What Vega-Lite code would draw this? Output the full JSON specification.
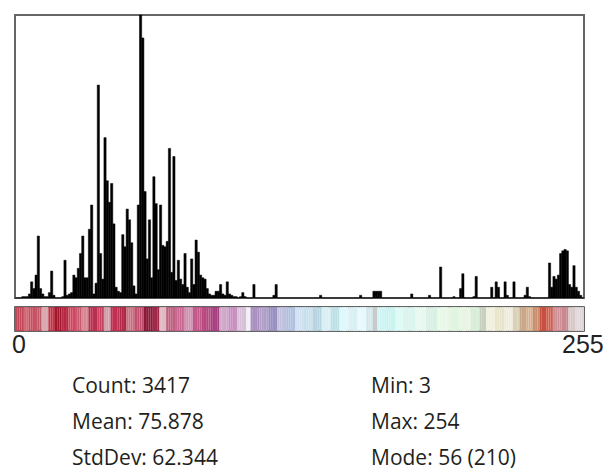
{
  "$schema": "https://vega.github.io/schema/vega-lite/v6.json",
  "padding": {"left": 10, "top": 13, "right": 2, "bottom": 0},
  "background": "white",
  "config": {"concat": {"spacing": 6}},
  "datasets": {
    "hist": [
      {"bin":0,"count":0},{"bin":1,"count":0},{"bin":2,"count":0},{"bin":3,"count":1},{"bin":4,"count":1},{"bin":5,"count":1},{"bin":6,"count":3},{"bin":7,"count":12},{"bin":8,"count":7},{"bin":9,"count":17},
      {"bin":10,"count":46},{"bin":11,"count":7},{"bin":12,"count":3},{"bin":13,"count":1},{"bin":14,"count":1},{"bin":15,"count":4},{"bin":16,"count":20},{"bin":17,"count":2},{"bin":18,"count":0},{"bin":19,"count":0},
      {"bin":20,"count":0},{"bin":21,"count":1},{"bin":22,"count":28},{"bin":23,"count":2},{"bin":24,"count":3},{"bin":25,"count":4},{"bin":26,"count":17},{"bin":27,"count":15},{"bin":28,"count":22},{"bin":29,"count":33},
      {"bin":30,"count":46},{"bin":31,"count":15},{"bin":32,"count":15},{"bin":33,"count":51},{"bin":34,"count":69},{"bin":35,"count":3},{"bin":36,"count":11},{"bin":37,"count":158},{"bin":38,"count":33},{"bin":39,"count":14},
      {"bin":40,"count":119},{"bin":41,"count":87},{"bin":42,"count":71},{"bin":43,"count":85},{"bin":44,"count":55},{"bin":45,"count":8},{"bin":46,"count":5},{"bin":47,"count":4},{"bin":48,"count":47},{"bin":49,"count":38},
      {"bin":50,"count":66},{"bin":51,"count":58},{"bin":52,"count":41},{"bin":53,"count":9},{"bin":54,"count":3},{"bin":55,"count":69},{"bin":56,"count":210},{"bin":57,"count":193},{"bin":58,"count":79},{"bin":59,"count":29},
      {"bin":60,"count":58},{"bin":61,"count":15},{"bin":62,"count":90},{"bin":63,"count":70},{"bin":64,"count":21},{"bin":65,"count":69},{"bin":66,"count":39},{"bin":67,"count":38},{"bin":68,"count":42},{"bin":69,"count":111},
      {"bin":70,"count":19},{"bin":71,"count":105},{"bin":72,"count":13},{"bin":73,"count":28},{"bin":74,"count":14},{"bin":75,"count":10},{"bin":76,"count":33},{"bin":77,"count":8},{"bin":78,"count":4},{"bin":79,"count":29},
      {"bin":80,"count":10},{"bin":81,"count":43},{"bin":82,"count":34},{"bin":83,"count":17},{"bin":84,"count":15},{"bin":85,"count":14},{"bin":86,"count":7},{"bin":87,"count":3},{"bin":88,"count":2},{"bin":89,"count":2},
      {"bin":90,"count":5},{"bin":91,"count":5},{"bin":92,"count":10},{"bin":93,"count":3},{"bin":94,"count":2},{"bin":95,"count":12},{"bin":96,"count":3},{"bin":97,"count":2},{"bin":98,"count":1},{"bin":99,"count":1},
      {"bin":100,"count":0},{"bin":101,"count":1},{"bin":102,"count":4},{"bin":103,"count":1},{"bin":104,"count":0},{"bin":105,"count":0},{"bin":106,"count":0},{"bin":107,"count":10},{"bin":108,"count":0},{"bin":109,"count":0},
      {"bin":110,"count":0},{"bin":111,"count":0},{"bin":112,"count":0},{"bin":113,"count":0},{"bin":114,"count":0},{"bin":115,"count":0},{"bin":116,"count":2},{"bin":117,"count":10},{"bin":118,"count":0},{"bin":119,"count":0},
      {"bin":120,"count":0},{"bin":121,"count":0},{"bin":122,"count":0},{"bin":123,"count":0},{"bin":124,"count":0},{"bin":125,"count":0},{"bin":126,"count":0},{"bin":127,"count":0},{"bin":128,"count":0},{"bin":129,"count":0},
      {"bin":130,"count":0},{"bin":131,"count":0},{"bin":132,"count":0},{"bin":133,"count":0},{"bin":134,"count":0},{"bin":135,"count":0},{"bin":136,"count":0},{"bin":137,"count":2},{"bin":138,"count":0},{"bin":139,"count":0},
      {"bin":140,"count":0},{"bin":141,"count":0},{"bin":142,"count":0},{"bin":143,"count":0},{"bin":144,"count":0},{"bin":145,"count":0},{"bin":146,"count":0},{"bin":147,"count":0},{"bin":148,"count":0},{"bin":149,"count":0},
      {"bin":150,"count":0},{"bin":151,"count":0},{"bin":152,"count":0},{"bin":153,"count":0},{"bin":154,"count":0},{"bin":155,"count":2},{"bin":156,"count":0},{"bin":157,"count":0},{"bin":158,"count":0},{"bin":159,"count":0},
      {"bin":160,"count":0},{"bin":161,"count":5},{"bin":162,"count":5},{"bin":163,"count":5},{"bin":164,"count":5},{"bin":165,"count":0},{"bin":166,"count":0},{"bin":167,"count":0},{"bin":168,"count":0},{"bin":169,"count":0},
      {"bin":170,"count":0},{"bin":171,"count":0},{"bin":172,"count":0},{"bin":173,"count":0},{"bin":174,"count":0},{"bin":175,"count":0},{"bin":176,"count":0},{"bin":177,"count":0},{"bin":178,"count":3},{"bin":179,"count":0},
      {"bin":180,"count":0},{"bin":181,"count":0},{"bin":182,"count":0},{"bin":183,"count":0},{"bin":184,"count":0},{"bin":185,"count":0},{"bin":186,"count":2},{"bin":187,"count":0},{"bin":188,"count":0},{"bin":189,"count":0},
      {"bin":190,"count":0},{"bin":191,"count":23},{"bin":192,"count":0},{"bin":193,"count":0},{"bin":194,"count":0},{"bin":195,"count":0},{"bin":196,"count":0},{"bin":197,"count":1},{"bin":198,"count":0},{"bin":199,"count":0},
      {"bin":200,"count":7},{"bin":201,"count":18},{"bin":202,"count":0},{"bin":203,"count":0},{"bin":204,"count":0},{"bin":205,"count":0},{"bin":206,"count":1},{"bin":207,"count":16},{"bin":208,"count":0},{"bin":209,"count":0},
      {"bin":210,"count":0},{"bin":211,"count":0},{"bin":212,"count":0},{"bin":213,"count":0},{"bin":214,"count":8},{"bin":215,"count":0},{"bin":216,"count":12},{"bin":217,"count":8},{"bin":218,"count":0},{"bin":219,"count":0},
      {"bin":220,"count":12},{"bin":221,"count":2},{"bin":222,"count":0},{"bin":223,"count":0},{"bin":224,"count":12},{"bin":225,"count":0},{"bin":226,"count":0},{"bin":227,"count":0},{"bin":228,"count":0},{"bin":229,"count":2},
      {"bin":230,"count":8},{"bin":231,"count":1},{"bin":232,"count":0},{"bin":233,"count":0},{"bin":234,"count":0},{"bin":235,"count":0},{"bin":236,"count":0},{"bin":237,"count":0},{"bin":238,"count":0},{"bin":239,"count":0},
      {"bin":240,"count":26},{"bin":241,"count":8},{"bin":242,"count":16},{"bin":243,"count":14},{"bin":244,"count":17},{"bin":245,"count":33},{"bin":246,"count":35},{"bin":247,"count":36},{"bin":248,"count":35},{"bin":249,"count":10},
      {"bin":250,"count":8},{"bin":251,"count":24},{"bin":252,"count":8},{"bin":253,"count":5},{"bin":254,"count":2},{"bin":255,"count":0}
    ],
    "stats": [
      {"column":"left","line":1,"label":"Count: 3417"},
      {"column":"left","line":2,"label":"Mean: 75.878"},
      {"column":"left","line":3,"label":"StdDev: 62.344"},
      {"column":"right","line":1,"label":"Min: 3"},
      {"column":"right","line":2,"label":"Max: 254"},
      {"column":"right","line":3,"label":"Mode: 56 (210)"}
    ]
  },
  "vconcat": [
    {
      "width": 569,
      "height": 283,
      "view": {"stroke": "#666666", "strokeWidth": 2},
      "data": {"name": "hist"},
      "mark": {"type": "bar", "color": "#000000", "stroke": "#000000", "strokeWidth": 0.5},
      "encoding": {
        "x": {"field": "bin", "type": "ordinal", "scale": {"type": "band", "paddingInner": 0, "paddingOuter": 0}, "axis": null},
        "y": {"field": "count", "type": "quantitative", "scale": {"domain": [0, 210], "nice": false}, "axis": null}
      }
    },
    {
      "width": 569,
      "height": 24,
      "view": {"stroke": "#333333", "strokeWidth": 1.5},
      "layer": [
        {
          "data": {"name": "hist"},
          "mark": {"type": "bar"},
          "encoding": {
            "x": {
              "field": "bin", "type": "ordinal",
              "scale": {"type": "band", "paddingInner": 0, "paddingOuter": 0},
              "axis": {
                "values": [0, 255], "ticks": false, "domain": false, "title": null, "labelAngle": 0,
                "labelFont": "Liberation Sans", "labelFontSize": 25, "labelColor": "#222222", "labelPadding": 1,
                "labelAlign": {"condition": {"test": "datum.value == 0", "value": "left"}, "value": "center"},
                "labelOffset": {"condition": {"test": "datum.value == 0", "value": -4}, "value": 0}
              }
            },
            "color": {
              "field": "bin", "type": "quantitative", "legend": null,
              "scale": {
                "type": "threshold",
                "domain": [4,6,9,12,15,18,21,24,27,30,33,37,40,43,47,50,54,58,62,65,68,72,76,80,84,88,92,96,100,104,106,110,114,118,122,126,130,134,138,142,146,150,154,158,161,163,167,171,175,180,185,190,195,200,205,209,212,216,220,224,227,230,233,236,239,242,246,249,252,255],
                "range": ["#c04858","#d06a74","#c85060","#c05868","#d8a8ae","#c03848","#a01830","#b82840","#d04860","#c85870","#d88890","#b83050","#c84060","#d0a0a8","#c03050","#b02848","#c87080","#c05070","#8c1838","#a02848","#e0b8c0","#c06080","#c86890","#d090b0","#c05888","#b84880","#a84080","#d0a8c8","#c890c0","#d8c0d8","#f0f0f4","#a890c0","#b0a0c8","#9890c0","#c0c0dc","#b0c0e0","#d0e0f0","#c8e0ec","#b8d4e0","#d8f0f4","#c0e0e8","#e0f8fc","#d8f0f4","#e8f8fc","#d0e8ec","#c8c8c8","#d0f4f4","#c8f4f0","#e0f8f4","#d8f4ec","#e8f8f0","#d8f0e4","#e8f8e8","#e0f4e0","#e8f4e4","#d8ecd8","#c8d0c0","#f0f0dc","#e8e4cc","#f0ecdc","#d8d0b8","#c8a888","#d8b090","#c89070","#c85040","#d06050","#d09098","#c88890","#d8c8c8","#e0d8d8","#d8d8d8"]
              }
            }
          }
        },
        {
          "data": {"name": "stats"},
          "mark": {"type": "text", "align": "left", "baseline": "alphabetic", "font": "Open Sans", "fontSize": 21, "color": "#231f20"},
          "encoding": {
            "x": {"field": "column", "type": "ordinal", "scale": {"type": "point", "range": [57, 356], "padding": 0}, "axis": null},
            "y": {"field": "line", "type": "ordinal", "scale": {"type": "point", "range": [86, 158], "padding": 0}, "axis": null},
            "text": {"field": "label"}
          }
        }
      ],
      "resolve": {"scale": {"x": "independent", "y": "independent"}, "axis": {"x": "independent"}}
    }
  ]
}
